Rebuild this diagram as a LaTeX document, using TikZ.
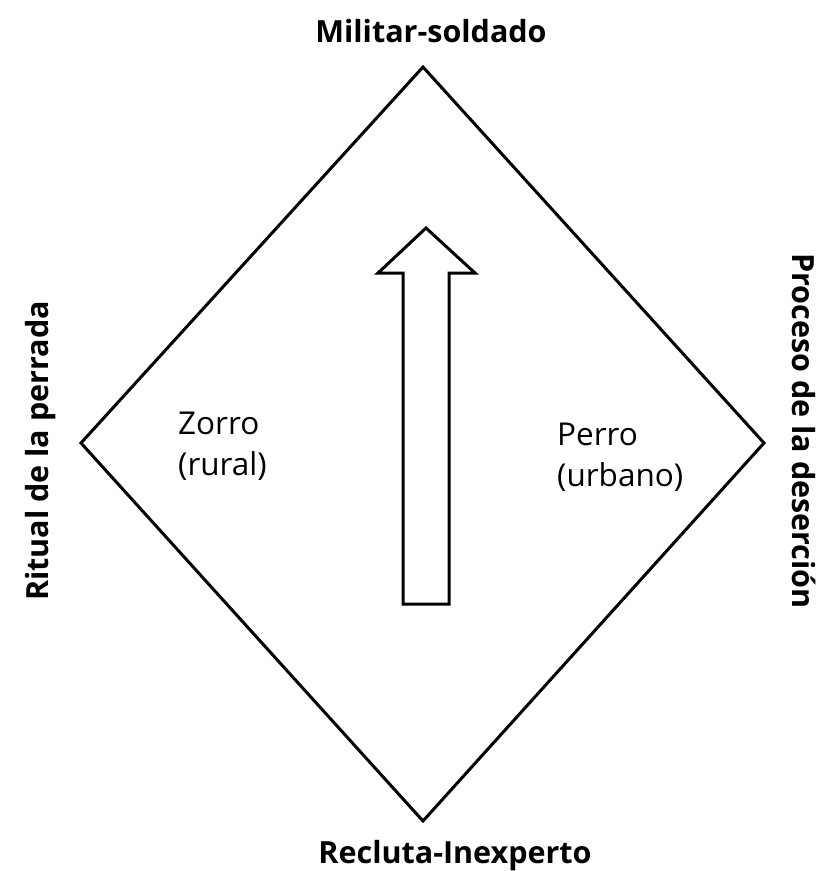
\documentclass[tikz,border=0pt]{standalone}
\usepackage{fontspec}
\setmainfont{Open Sans}
\begin{document}
\begin{tikzpicture}[x=1pt,y=-1pt,
  line/.style={draw=black,line width=3pt,line join=miter},
  title/.style={font=\fontsize{30.5}{34}\selectfont\bfseries,inner sep=0pt},
  inner/.style={font=\fontsize{31.5}{41}\selectfont,align=left,inner sep=0pt,anchor=north west}]
\useasboundingbox (0,0) rectangle (824,871);
% diamond
\coordinate (T) at (423,67);
\coordinate (R) at (764,443);
\coordinate (B) at (423,821);
\coordinate (L) at (81,443);
\draw[line] (T) -- (R) -- (B) -- (L) -- cycle;
% arrow
\coordinate (tip) at (426,228);
\coordinate (hl) at (378,273);
\coordinate (hr) at (475,273);
\coordinate (sl) at (403,273);
\coordinate (sr) at (449,273);
\coordinate (bl) at (403,604);
\coordinate (br) at (449,604);
\draw[line] (tip) -- (hr) -- (sr) -- (br) -- (bl) -- (sl) -- (hl) -- cycle;
% labels
\node[title] (top) at (431,31) {Militar-soldado};
\node[title] (bot) at (455,856) {Recluta-Inexperto};
\node[title,rotate=90] (left) at (41,451) {Ritual de la perrada};
\node[title,rotate=-90] (right) at (804,431) {Proceso de la deserción};
\node[inner] (zorro) at (178,412) {Zorro\\(rural)};
\node[inner] (perro) at (557,423) {Perro\\(urbano)};
\end{tikzpicture}
\end{document}
